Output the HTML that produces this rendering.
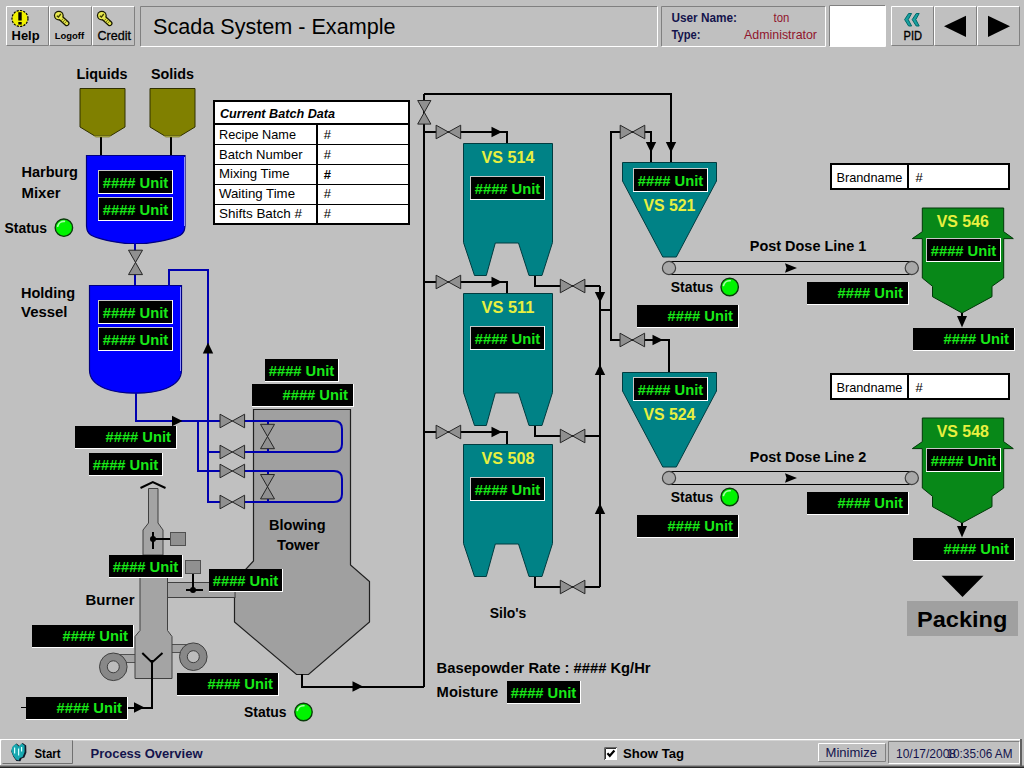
<!DOCTYPE html>
<html lang="en"><head><meta charset="utf-8"><title>Scada System - Example</title>
<style>html,body{margin:0;padding:0;background:#c0c0c0;overflow:hidden}svg{display:block}text{font-family:"Liberation Sans",sans-serif;white-space:pre}</style>
</head><body>
<svg width="1024" height="768" viewBox="0 0 1024 768">
<rect width="1024" height="768" fill="#c0c0c0"/>
<rect x="6" y="6" width="42" height="39" fill="#c0c0c0"/>
<path d="M6,45V6H48" stroke="#fff" stroke-width="1" fill="none" transform="translate(.5,.5)"/>
<path d="M6,45H48V6" stroke="#808080" stroke-width="1" fill="none" transform="translate(.5,.5)"/>
<rect x="49" y="6" width="42" height="39" fill="#c0c0c0"/>
<path d="M49,45V6H91" stroke="#fff" stroke-width="1" fill="none" transform="translate(.5,.5)"/>
<path d="M49,45H91V6" stroke="#808080" stroke-width="1" fill="none" transform="translate(.5,.5)"/>
<rect x="92" y="6" width="42" height="39" fill="#c0c0c0"/>
<path d="M92,45V6H134" stroke="#fff" stroke-width="1" fill="none" transform="translate(.5,.5)"/>
<path d="M92,45H134V6" stroke="#808080" stroke-width="1" fill="none" transform="translate(.5,.5)"/>
<rect x="140" y="6" width="517" height="40" fill="#c0c0c0"/>
<path d="M140,46V6H657" stroke="#808080" stroke-width="1" fill="none" transform="translate(.5,.5)"/>
<path d="M140,46H657V6" stroke="#fff" stroke-width="1" fill="none" transform="translate(.5,.5)"/>
<rect x="661" y="6" width="164" height="40" fill="#c0c0c0"/>
<path d="M661,46V6H825" stroke="#808080" stroke-width="1" fill="none" transform="translate(.5,.5)"/>
<path d="M661,46H825V6" stroke="#fff" stroke-width="1" fill="none" transform="translate(.5,.5)"/>
<rect x="829" y="5" width="56" height="41" fill="#fff"/>
<path d="M829,46V5H885" stroke="#808080" stroke-width="1" fill="none" transform="translate(.5,.5)"/>
<path d="M829,46H885V5" stroke="#fff" stroke-width="1" fill="none" transform="translate(.5,.5)"/>
<rect x="891" y="6" width="42" height="39" fill="#c0c0c0"/>
<path d="M891,45V6H933" stroke="#fff" stroke-width="1" fill="none" transform="translate(.5,.5)"/>
<path d="M891,45H933V6" stroke="#808080" stroke-width="1" fill="none" transform="translate(.5,.5)"/>
<rect x="934" y="6" width="42" height="39" fill="#c0c0c0"/>
<path d="M934,45V6H976" stroke="#fff" stroke-width="1" fill="none" transform="translate(.5,.5)"/>
<path d="M934,45H976V6" stroke="#808080" stroke-width="1" fill="none" transform="translate(.5,.5)"/>
<rect x="977" y="6" width="42" height="39" fill="#c0c0c0"/>
<path d="M977,45V6H1019" stroke="#fff" stroke-width="1" fill="none" transform="translate(.5,.5)"/>
<path d="M977,45H1019V6" stroke="#808080" stroke-width="1" fill="none" transform="translate(.5,.5)"/>
<circle cx="20" cy="18.5" r="8" fill="#f0f000" stroke="#000" stroke-width="1.2" stroke-dasharray="2.2 1.2"/>
<rect x="18.3" y="12.2" width="3.4" height="8.3" fill="#000"/><rect x="18.3" y="22" width="3.4" height="2.6" fill="#000"/>
<text x="25.6" y="39.6" font-size="13" font-weight="bold" fill="#000" text-anchor="middle" textLength="28" lengthAdjust="spacingAndGlyphs">Help</text>
<g transform="translate(53.8,10.8)"><path d="M7.4,7.6L12.9,12.6" stroke="#181800" stroke-width="5.6" stroke-linecap="round"/><circle cx="5" cy="4.8" r="4.9" fill="#181800"/><path d="M7.4,7.6L12.9,12.6" stroke="#e4e44c" stroke-width="3.2" stroke-linecap="round"/><circle cx="5" cy="4.8" r="3.7" fill="#e8e850"/><path d="M3,5L4.6,6.2L7,3.2" stroke="#404000" stroke-width="1.3" fill="none"/><path d="M9.6,7.6L7.4,10 M11.2,9L9,11.4 M12.8,10.4L10.6,12.8" stroke="#606000" stroke-width=".8"/></g>
<text x="69.4" y="38.5" font-size="9.2" font-weight="bold" fill="#000" text-anchor="middle" textLength="29.4" lengthAdjust="spacingAndGlyphs">Logoff</text>
<g transform="translate(96.8,10.8)"><path d="M7.4,7.6L12.9,12.6" stroke="#181800" stroke-width="5.6" stroke-linecap="round"/><circle cx="5" cy="4.8" r="4.9" fill="#181800"/><path d="M7.4,7.6L12.9,12.6" stroke="#e4e44c" stroke-width="3.2" stroke-linecap="round"/><circle cx="5" cy="4.8" r="3.7" fill="#e8e850"/><path d="M3,5L4.6,6.2L7,3.2" stroke="#404000" stroke-width="1.3" fill="none"/><path d="M9.6,7.6L7.4,10 M11.2,9L9,11.4 M12.8,10.4L10.6,12.8" stroke="#606000" stroke-width=".8"/></g>
<text x="114.2" y="39.5" font-size="12.5" font-weight="normal" fill="#000" text-anchor="middle" textLength="33.5" lengthAdjust="spacingAndGlyphs" stroke="#000" stroke-width=".3">Credit</text>
<text x="153" y="33.7" font-size="21.5" font-weight="normal" fill="#000" textLength="242.5" lengthAdjust="spacingAndGlyphs">Scada System - Example</text>
<text x="671.5" y="21.8" font-size="12" font-weight="bold" fill="#14144c" textLength="65.5" lengthAdjust="spacingAndGlyphs">User Name:</text>
<text x="671.5" y="38.7" font-size="12" font-weight="bold" fill="#14144c" textLength="29" lengthAdjust="spacingAndGlyphs">Type:</text>
<text x="773.5" y="21.8" font-size="13" font-weight="normal" fill="#90142c" textLength="15.8" lengthAdjust="spacingAndGlyphs">ton</text>
<text x="744" y="38.7" font-size="13" font-weight="normal" fill="#90142c" textLength="73" lengthAdjust="spacingAndGlyphs">Administrator</text>
<path d="M911,13.5L907.6,19.6L911,26L908,26L904,19.6L908,13.5Z M918.6,13.5L915.2,19.6L918.6,26L915.6,26L911.6,19.6L915.6,13.5Z" fill="#18a0a0" stroke="#006868" stroke-width="1" transform="translate(.6,0)"/>
<text x="912.8" y="39.8" font-size="12" font-weight="normal" fill="#000" text-anchor="middle" textLength="18.5" lengthAdjust="spacingAndGlyphs" stroke="#000" stroke-width=".35">PID</text>
<path d="M944,26.3L966,15.7V36.9Z" fill="#000"/>
<path d="M1010,26.3L988,15.7V36.9Z" fill="#000"/>
<text x="102" y="79" font-size="15.5" font-weight="bold" fill="#000" text-anchor="middle" textLength="51" lengthAdjust="spacingAndGlyphs">Liquids</text>
<text x="172.5" y="79" font-size="15.5" font-weight="bold" fill="#000" text-anchor="middle" textLength="43" lengthAdjust="spacingAndGlyphs">Solids</text>
<path d="M101,137V155.5" stroke="#000" stroke-width="2" fill="none" shape-rendering="crispEdges" />
<path d="M171,137V155.5" stroke="#000" stroke-width="2" fill="none" shape-rendering="crispEdges" />
<path d="M80,88.5H125V127L111,135.5H94L80,127Z" fill="#808000" stroke="#303000" stroke-width="1"/>
<path d="M94,135.5H111L109.5,137H95.5Z" fill="#b8b850" stroke="#606000" stroke-width=".6"/>
<path d="M150,88.5H195V127L181,135.5H164L150,127Z" fill="#808000" stroke="#303000" stroke-width="1"/>
<path d="M164,135.5H181L179.5,137H165.5Z" fill="#b8b850" stroke="#606000" stroke-width=".6"/>
<path d="M86.5,155.5H185V226C184.8,226.8 184.8,229.5 184.0,231.0C183.2,232.5 182.6,233.9 180.3,235.2C178.0,236.5 174.0,237.8 170.3,238.9C166.6,240.0 162.0,241.0 158.0,241.7C154.0,242.4 150.2,243.0 146.5,243.3C142.8,243.6 139.3,243.5 135.8,243.5C132.2,243.5 128.7,243.6 125.0,243.3C121.3,243.0 117.5,242.4 113.5,241.7C109.5,241.0 104.9,240.0 101.2,238.9C97.5,237.8 93.5,236.5 91.2,235.2C88.9,233.9 88.3,232.5 87.5,231.0C86.7,229.5 86.7,226.8 86.5,226.0Z" fill="#0000ff" stroke="#000080" stroke-width="1.2"/>
<path d="M184.5,157V226" stroke="#9090ff" stroke-width="1" fill="none" shape-rendering="crispEdges" />
<rect x="98" y="170" width="75" height="24" fill="#fff"/>
<rect x="98" y="170" width="74" height="23" fill="#c8c8c8"/>
<rect x="99" y="171" width="73" height="22" fill="#000"/>
<text x="135.5" y="188.2" font-size="15" font-weight="bold" fill="#18e818" text-anchor="middle" textLength="65.5" lengthAdjust="spacingAndGlyphs">#### Unit</text>
<rect x="98" y="197" width="75" height="24" fill="#fff"/>
<rect x="98" y="197" width="74" height="23" fill="#c8c8c8"/>
<rect x="99" y="198" width="73" height="22" fill="#000"/>
<text x="135.5" y="215.2" font-size="15" font-weight="bold" fill="#18e818" text-anchor="middle" textLength="65.5" lengthAdjust="spacingAndGlyphs">#### Unit</text>
<text x="21.5" y="177.3" font-size="15.5" font-weight="bold" fill="#000" textLength="56.5" lengthAdjust="spacingAndGlyphs">Harburg</text>
<text x="21.5" y="197.9" font-size="15.5" font-weight="bold" fill="#000" textLength="39" lengthAdjust="spacingAndGlyphs">Mixer</text>
<text x="4.5" y="233" font-size="15.5" font-weight="bold" fill="#000" textLength="42.6" lengthAdjust="spacingAndGlyphs">Status</text>
<circle cx="63.9" cy="227.7" r="8.7" fill="#00f400" stroke="#0a3a0a" stroke-width="1.4"/>
<path d="M57.699999999999996,226.2A6.4,6.4 0 0 1 64.4,221.39999999999998" stroke="#c8ffc8" stroke-width="1.6" fill="none" stroke-linecap="round" opacity=".85"/>
<path d="M135,243V251 M135,274V286" stroke="#0000b0" stroke-width="2" fill="none" shape-rendering="crispEdges" />
<path d="M128.5,250.2L142.5,274.59999999999997H128.5L142.5,250.2Z" fill="#909090" stroke="#262626" stroke-width="1" stroke-linejoin="miter"/>
<path d="M89.5,285.5H181.5V370C181.5,378 176,384.5 166,388.5C157,392 146,393.2 135.5,393.2C125,393.2 114,392 105,388.5C95,384.5 89.5,378 89.5,370Z" fill="#0000ff" stroke="#000080" stroke-width="1.2"/>
<path d="M180.5,287V371" stroke="#9090ff" stroke-width="1" fill="none" shape-rendering="crispEdges" />
<rect x="98" y="300" width="75" height="24" fill="#fff"/>
<rect x="98" y="300" width="74" height="23" fill="#c8c8c8"/>
<rect x="99" y="301" width="73" height="22" fill="#000"/>
<text x="135.5" y="318.2" font-size="15" font-weight="bold" fill="#18e818" text-anchor="middle" textLength="65.5" lengthAdjust="spacingAndGlyphs">#### Unit</text>
<rect x="98" y="327" width="75" height="24" fill="#fff"/>
<rect x="98" y="327" width="74" height="23" fill="#c8c8c8"/>
<rect x="99" y="328" width="73" height="22" fill="#000"/>
<text x="135.5" y="345.2" font-size="15" font-weight="bold" fill="#18e818" text-anchor="middle" textLength="65.5" lengthAdjust="spacingAndGlyphs">#### Unit</text>
<text x="21" y="297.5" font-size="15.5" font-weight="bold" fill="#000" textLength="54" lengthAdjust="spacingAndGlyphs">Holding</text>
<text x="21" y="317.3" font-size="15.5" font-weight="bold" fill="#000" textLength="46.5" lengthAdjust="spacingAndGlyphs">Vessel</text>
<path d="M169,286V270H208V502H221" stroke="#0000b0" stroke-width="2" fill="none" shape-rendering="crispEdges" />
<path d="M136,393V421H221" stroke="#0000b0" stroke-width="2" fill="none" shape-rendering="crispEdges" />
<path d="M198,421V471H221" stroke="#0000b0" stroke-width="2" fill="none" shape-rendering="crispEdges" />
<path d="M208,452H221" stroke="#0000b0" stroke-width="2" fill="none" shape-rendering="crispEdges" />
<path d="M208,342.5L202.8,353.5L208,353.5L213.2,353.5Z" fill="#000"/>
<path d="M182.5,421L172.0,415.8L172.0,421L172.0,426.2Z" fill="#000"/>
<path d="M253.5,409.5H350.5V565L369.5,581.5V622L308.5,674.5H296.5L234.5,622V581.5L253.5,561Z" fill="#a0a0a0" stroke="#202020" stroke-width="1.2"/>
<path d="M244,421H334Q342,421 342,429V444Q342,452 334,452H244" stroke="#0000b0" stroke-width="2" fill="none" />
<path d="M244,471H334Q342,471 342,479V494Q342,502 334,502H244" stroke="#0000b0" stroke-width="2" fill="none" />
<path d="M267.5,421V425 M267.5,448V452 M267.5,471V475 M267.5,498V502" stroke="#0000b0" stroke-width="2" fill="none" shape-rendering="crispEdges" />
<path d="M260.5,424.3L274.5,448.7H260.5L274.5,424.3Z" fill="#909090" stroke="#262626" stroke-width="1" stroke-linejoin="miter"/>
<path d="M260.5,474.5L274.5,498.9H260.5L274.5,474.5Z" fill="#909090" stroke="#262626" stroke-width="1" stroke-linejoin="miter"/>
<path d="M220.0,414.2L244.60000000000002,427.8V414.2L220.0,427.8Z" fill="#909090" stroke="#262626" stroke-width="1" stroke-linejoin="miter"/>
<path d="M220.0,445.2L244.60000000000002,458.8V445.2L220.0,458.8Z" fill="#909090" stroke="#262626" stroke-width="1" stroke-linejoin="miter"/>
<path d="M220.0,464.2L244.60000000000002,477.8V464.2L220.0,477.8Z" fill="#909090" stroke="#262626" stroke-width="1" stroke-linejoin="miter"/>
<path d="M220.0,495.2L244.60000000000002,508.8V495.2L220.0,508.8Z" fill="#909090" stroke="#262626" stroke-width="1" stroke-linejoin="miter"/>
<text x="297.3" y="530" font-size="15.5" font-weight="bold" fill="#000" text-anchor="middle" textLength="56.5" lengthAdjust="spacingAndGlyphs">Blowing</text>
<text x="298.3" y="550" font-size="15.5" font-weight="bold" fill="#000" text-anchor="middle" textLength="42.7" lengthAdjust="spacingAndGlyphs">Tower</text>
<rect x="265" y="359" width="74" height="23" fill="#fff"/>
<rect x="265" y="359" width="73" height="22" fill="#000"/>
<text x="301.5" y="376.2" font-size="15" font-weight="bold" fill="#18e818" text-anchor="middle" textLength="65.5" lengthAdjust="spacingAndGlyphs">#### Unit</text>
<rect x="252" y="384" width="102" height="23" fill="#fff"/>
<rect x="252" y="384" width="101" height="22" fill="#000"/>
<text x="348" y="399.8" font-size="15" font-weight="bold" fill="#18e818" text-anchor="end" textLength="65.5" lengthAdjust="spacingAndGlyphs">#### Unit</text>
<rect x="75" y="426" width="102" height="23" fill="#fff"/>
<rect x="75" y="426" width="101" height="22" fill="#000"/>
<text x="171" y="441.8" font-size="15" font-weight="bold" fill="#18e818" text-anchor="end" textLength="65.5" lengthAdjust="spacingAndGlyphs">#### Unit</text>
<rect x="89" y="453" width="74" height="23" fill="#fff"/>
<rect x="89" y="453" width="73" height="22" fill="#000"/>
<text x="125.5" y="470.2" font-size="15" font-weight="bold" fill="#18e818" text-anchor="middle" textLength="65.5" lengthAdjust="spacingAndGlyphs">#### Unit</text>
<path d="M302,674V686.5H424" stroke="#000" stroke-width="2" fill="none" shape-rendering="crispEdges" />
<path d="M363,686.5L352.5,681.3L352.5,686.5L352.5,691.7Z" fill="#000"/>
<text x="244" y="717" font-size="15.5" font-weight="bold" fill="#000" textLength="42.6" lengthAdjust="spacingAndGlyphs">Status</text>
<circle cx="303.5" cy="712" r="8.7" fill="#00f400" stroke="#0a3a0a" stroke-width="1.4"/>
<path d="M297.3,710.5A6.4,6.4 0 0 1 304.0,705.7" stroke="#c8ffc8" stroke-width="1.6" fill="none" stroke-linecap="round" opacity=".85"/>
<path d="M148.5,488.5H158V523L163,530V555H143V530L148.5,523Z" fill="#a4a4a4" stroke="#404040" stroke-width="1"/>
<path d="M140.5,488L152.8,482L165.5,488" stroke="#000" stroke-width="2" fill="none" />
<rect x="166" y="582.5" width="69" height="15" fill="#a4a4a4" stroke="#404040" stroke-width="1"/>
<rect x="113" y="654.5" width="23" height="8" fill="#a4a4a4" stroke="#505050" stroke-width="1"/>
<rect x="171" y="644.5" width="23" height="8" fill="#a4a4a4" stroke="#505050" stroke-width="1"/>
<circle cx="113.3" cy="666.8" r="13.8" fill="#888" stroke="#404040" stroke-width="1"/>
<circle cx="113.3" cy="666.8" r="6" fill="#bcbcbc" stroke="#404040" stroke-width="1"/>
<circle cx="193.3" cy="656.7" r="13.8" fill="#888" stroke="#404040" stroke-width="1"/>
<circle cx="193.3" cy="656.7" r="6" fill="#bcbcbc" stroke="#404040" stroke-width="1"/>
<path d="M140,577H167.5V630.5L172,636.5V678.5H135V636.5L140,630.5Z" fill="#a4a4a4" stroke="#404040" stroke-width="1"/>
<path d="M142.3,653L152,662.5L162.5,653" stroke="#000" stroke-width="2" fill="none" />
<path d="M152,660V707.5H128" stroke="#000" stroke-width="2" fill="none" shape-rendering="crispEdges" />
<path d="M144.5,707.5L134.0,702.3L134.0,707.5L134.0,712.7Z" fill="#000"/>
<path d="M21,707.5H26" stroke="#000" stroke-width="1.5" fill="none" shape-rendering="crispEdges" />
<path d="M153,531.5V548.5 M153,539H171" stroke="#000" stroke-width="2" fill="none" shape-rendering="crispEdges" />
<circle cx="153" cy="539" r="3" fill="#000"/>
<rect x="170.5" y="532.5" width="15" height="13" fill="#909090" stroke="#505050" stroke-width="1"/>
<rect x="185.5" y="560.5" width="15" height="13" fill="#909090" stroke="#505050" stroke-width="1"/>
<path d="M193,573.5V590 M185.5,590H203" stroke="#000" stroke-width="2" fill="none" shape-rendering="crispEdges" />
<circle cx="193" cy="590" r="3" fill="#000"/>
<text x="110" y="605" font-size="15.5" font-weight="bold" fill="#000" text-anchor="middle" textLength="49" lengthAdjust="spacingAndGlyphs">Burner</text>
<rect x="109" y="555" width="74" height="23" fill="#fff"/>
<rect x="109" y="555" width="73" height="22" fill="#000"/>
<text x="145.5" y="572.2" font-size="15" font-weight="bold" fill="#18e818" text-anchor="middle" textLength="65.5" lengthAdjust="spacingAndGlyphs">#### Unit</text>
<rect x="209" y="569" width="74" height="23" fill="#fff"/>
<rect x="209" y="569" width="73" height="22" fill="#000"/>
<text x="245.5" y="586.2" font-size="15" font-weight="bold" fill="#18e818" text-anchor="middle" textLength="65.5" lengthAdjust="spacingAndGlyphs">#### Unit</text>
<rect x="32" y="625" width="102" height="23" fill="#fff"/>
<rect x="32" y="625" width="101" height="22" fill="#000"/>
<text x="128" y="640.8" font-size="15" font-weight="bold" fill="#18e818" text-anchor="end" textLength="65.5" lengthAdjust="spacingAndGlyphs">#### Unit</text>
<rect x="177" y="673" width="102" height="23" fill="#fff"/>
<rect x="177" y="673" width="101" height="22" fill="#000"/>
<text x="273" y="688.8" font-size="15" font-weight="bold" fill="#18e818" text-anchor="end" textLength="65.5" lengthAdjust="spacingAndGlyphs">#### Unit</text>
<rect x="26" y="697" width="102" height="23" fill="#fff"/>
<rect x="26" y="697" width="101" height="22" fill="#000"/>
<text x="122" y="712.8" font-size="15" font-weight="bold" fill="#18e818" text-anchor="end" textLength="65.5" lengthAdjust="spacingAndGlyphs">#### Unit</text>
<rect x="214" y="101" width="195" height="123" fill="#fff" stroke="#000" stroke-width="2" shape-rendering="crispEdges"/>
<path d="M213,124H410" stroke="#000" stroke-width="2" fill="none" shape-rendering="crispEdges" />
<path d="M214,144.5H409 M214,164.5H409 M214,184.5H409 M214,204.5H409" stroke="#000" stroke-width="1" fill="none" shape-rendering="crispEdges" />
<path d="M317,124V224" stroke="#000" stroke-width="2" fill="none" shape-rendering="crispEdges" />
<text x="220" y="117.5" font-size="12.5" font-weight="bold" fill="#000" textLength="115" lengthAdjust="spacingAndGlyphs" font-style="italic">Current Batch Data</text>
<text x="219" y="138.8" font-size="13" font-weight="normal" fill="#000" textLength="77" lengthAdjust="spacingAndGlyphs">Recipe Name</text>
<text x="323.8" y="138.8" font-size="13" font-weight="normal" fill="#000">#</text>
<text x="219" y="158.8" font-size="13" font-weight="normal" fill="#000" textLength="83.5" lengthAdjust="spacingAndGlyphs">Batch Number</text>
<text x="323.8" y="158.8" font-size="13" font-weight="normal" fill="#000">#</text>
<text x="219" y="178.3" font-size="13" font-weight="normal" fill="#000" textLength="70.5" lengthAdjust="spacingAndGlyphs">Mixing Time</text>
<text x="323.8" y="179.10000000000002" font-size="13" font-weight="bold" fill="#000">#</text>
<text x="219" y="198.3" font-size="13" font-weight="normal" fill="#000" textLength="76" lengthAdjust="spacingAndGlyphs">Waiting Time</text>
<text x="323.8" y="198.3" font-size="13" font-weight="normal" fill="#000">#</text>
<text x="219" y="218.3" font-size="13" font-weight="normal" fill="#000" textLength="83" lengthAdjust="spacingAndGlyphs">Shifts Batch #</text>
<text x="323.8" y="218.3" font-size="13" font-weight="normal" fill="#000">#</text>
<path d="M424,94V687" stroke="#000" stroke-width="2" fill="none" shape-rendering="crispEdges" />
<path d="M424,94H671V162" stroke="#000" stroke-width="2" fill="none" shape-rendering="crispEdges" />
<path d="M671,152.5L665.8,142.0L671,142.0L676.2,142.0Z" fill="#000"/>
<path d="M417.7,100.5L430.90000000000003,124.1H417.7L430.90000000000003,100.5Z" fill="#909090" stroke="#262626" stroke-width="1" stroke-linejoin="miter"/>
<path d="M424,132H507V143" stroke="#000" stroke-width="2" fill="none" shape-rendering="crispEdges" />
<path d="M436.09999999999997,125.2L460.7,138.8V125.2L436.09999999999997,138.8Z" fill="#909090" stroke="#262626" stroke-width="1" stroke-linejoin="miter"/>
<path d="M502,132L491.5,126.8L491.5,132L491.5,137.2Z" fill="#000"/>
<path d="M535,275.5V286H600" stroke="#000" stroke-width="2" fill="none" shape-rendering="crispEdges" />
<path d="M560.3000000000001,279.2L584.9,292.8V279.2L560.3000000000001,292.8Z" fill="#909090" stroke="#262626" stroke-width="1" stroke-linejoin="miter"/>
<path d="M463.5,143.5H552.5V242.5L542,275.5H529L518.5,243.0H495.3L486.3,275.5H474.5L463.5,242.5Z" fill="#008286" stroke="#003c40" stroke-width="1"/>
<text x="508" y="162.8" font-size="16" font-weight="bold" fill="#e8f040" text-anchor="middle" textLength="52.8" lengthAdjust="spacingAndGlyphs">VS 514</text>
<rect x="470" y="176" width="75" height="24" fill="#fff"/>
<rect x="470" y="176" width="74" height="23" fill="#c8c8c8"/>
<rect x="471" y="177" width="73" height="22" fill="#000"/>
<text x="507.5" y="194.2" font-size="15" font-weight="bold" fill="#18e818" text-anchor="middle" textLength="65.5" lengthAdjust="spacingAndGlyphs">#### Unit</text>
<path d="M424,282H507V293" stroke="#000" stroke-width="2" fill="none" shape-rendering="crispEdges" />
<path d="M436.09999999999997,275.2L460.7,288.8V275.2L436.09999999999997,288.8Z" fill="#909090" stroke="#262626" stroke-width="1" stroke-linejoin="miter"/>
<path d="M502,282L491.5,276.8L491.5,282L491.5,287.2Z" fill="#000"/>
<path d="M535,425.5V436H600" stroke="#000" stroke-width="2" fill="none" shape-rendering="crispEdges" />
<path d="M560.3000000000001,429.2L584.9,442.8V429.2L560.3000000000001,442.8Z" fill="#909090" stroke="#262626" stroke-width="1" stroke-linejoin="miter"/>
<path d="M463.5,293.5H552.5V392.5L542,425.5H529L518.5,393.0H495.3L486.3,425.5H474.5L463.5,392.5Z" fill="#008286" stroke="#003c40" stroke-width="1"/>
<text x="508" y="312.8" font-size="16" font-weight="bold" fill="#e8f040" text-anchor="middle" textLength="52.8" lengthAdjust="spacingAndGlyphs">VS 511</text>
<rect x="470" y="326" width="75" height="24" fill="#fff"/>
<rect x="470" y="326" width="74" height="23" fill="#c8c8c8"/>
<rect x="471" y="327" width="73" height="22" fill="#000"/>
<text x="507.5" y="344.2" font-size="15" font-weight="bold" fill="#18e818" text-anchor="middle" textLength="65.5" lengthAdjust="spacingAndGlyphs">#### Unit</text>
<path d="M424,432H507V444" stroke="#000" stroke-width="2" fill="none" shape-rendering="crispEdges" />
<path d="M436.09999999999997,425.2L460.7,438.8V425.2L436.09999999999997,438.8Z" fill="#909090" stroke="#262626" stroke-width="1" stroke-linejoin="miter"/>
<path d="M502,432L491.5,426.8L491.5,432L491.5,437.2Z" fill="#000"/>
<path d="M535,576.5V587H600" stroke="#000" stroke-width="2" fill="none" shape-rendering="crispEdges" />
<path d="M560.3000000000001,580.2L584.9,593.8V580.2L560.3000000000001,593.8Z" fill="#909090" stroke="#262626" stroke-width="1" stroke-linejoin="miter"/>
<path d="M463.5,444.5H552.5V543.5L542,576.5H529L518.5,544.0H495.3L486.3,576.5H474.5L463.5,543.5Z" fill="#008286" stroke="#003c40" stroke-width="1"/>
<text x="508" y="463.8" font-size="16" font-weight="bold" fill="#e8f040" text-anchor="middle" textLength="52.8" lengthAdjust="spacingAndGlyphs">VS 508</text>
<rect x="470" y="477" width="75" height="24" fill="#fff"/>
<rect x="470" y="477" width="74" height="23" fill="#c8c8c8"/>
<rect x="471" y="478" width="73" height="22" fill="#000"/>
<text x="507.5" y="495.2" font-size="15" font-weight="bold" fill="#18e818" text-anchor="middle" textLength="65.5" lengthAdjust="spacingAndGlyphs">#### Unit</text>
<path d="M600,286V587" stroke="#000" stroke-width="2" fill="none" shape-rendering="crispEdges" />
<path d="M600,302.5L594.8,292.0L600,292.0L605.2,292.0Z" fill="#000"/>
<path d="M600,364.5L594.8,375.0L600,375.0L605.2,375.0Z" fill="#000"/>
<path d="M600,503.5L594.8,514.0L600,514.0L605.2,514.0Z" fill="#000"/>
<path d="M600,310H611" stroke="#000" stroke-width="2" fill="none" shape-rendering="crispEdges" />
<path d="M651,162V132H611V340H669V372" stroke="#000" stroke-width="2" fill="none" shape-rendering="crispEdges" />
<path d="M620.2,125.2L644.8,138.8V125.2L620.2,138.8Z" fill="#909090" stroke="#262626" stroke-width="1" stroke-linejoin="miter"/>
<path d="M651,152.5L645.8,142.0L651,142.0L656.2,142.0Z" fill="#000"/>
<path d="M620.0,333.2L644.5999999999999,346.8V333.2L620.0,346.8Z" fill="#909090" stroke="#262626" stroke-width="1" stroke-linejoin="miter"/>
<path d="M663,340L652.5,334.8L652.5,340L652.5,345.2Z" fill="#000"/>
<path d="M622.5,162.5H716.5V181L676.3,257H662.8L622.5,181Z" fill="#008286" stroke="#003c40" stroke-width="1"/>
<rect x="633" y="168" width="75" height="24" fill="#fff"/>
<rect x="633" y="168" width="74" height="23" fill="#c8c8c8"/>
<rect x="634" y="169" width="73" height="22" fill="#000"/>
<text x="670.5" y="186.2" font-size="15" font-weight="bold" fill="#18e818" text-anchor="middle" textLength="65.5" lengthAdjust="spacingAndGlyphs">#### Unit</text>
<text x="669.4" y="211" font-size="16" font-weight="bold" fill="#e8f040" text-anchor="middle" textLength="52" lengthAdjust="spacingAndGlyphs">VS 521</text>
<path d="M669,261.5H912 M669,274.5H912" stroke="#000" stroke-width="1" fill="none" shape-rendering="crispEdges" />
<circle cx="669" cy="268" r="6.6" fill="#a8a8a8" stroke="#404040" stroke-width="1.2"/>
<circle cx="911.8" cy="268" r="6.6" fill="#a8a8a8" stroke="#404040" stroke-width="1.2"/>
<path d="M797,268L785,263.2L786.5,268L785,272.8Z" fill="#000"/>
<text x="808" y="251.2" font-size="15.5" font-weight="bold" fill="#000" text-anchor="middle" textLength="116.5" lengthAdjust="spacingAndGlyphs">Post Dose Line 1</text>
<text x="670.7" y="292.1" font-size="15.5" font-weight="bold" fill="#000" textLength="42.6" lengthAdjust="spacingAndGlyphs">Status</text>
<circle cx="729.7" cy="287" r="8.7" fill="#00f400" stroke="#0a3a0a" stroke-width="1.4"/>
<path d="M723.5,285.5A6.4,6.4 0 0 1 730.2,280.7" stroke="#c8ffc8" stroke-width="1.6" fill="none" stroke-linecap="round" opacity=".85"/>
<rect x="637" y="305" width="102" height="23" fill="#fff"/>
<rect x="637" y="305" width="101" height="22" fill="#000"/>
<text x="733" y="320.8" font-size="15" font-weight="bold" fill="#18e818" text-anchor="end" textLength="65.5" lengthAdjust="spacingAndGlyphs">#### Unit</text>
<rect x="807" y="282" width="102" height="23" fill="#fff"/>
<rect x="807" y="282" width="101" height="22" fill="#000"/>
<text x="903" y="297.8" font-size="15" font-weight="bold" fill="#18e818" text-anchor="end" textLength="65.5" lengthAdjust="spacingAndGlyphs">#### Unit</text>
<path d="M622.5,372.5H716.5V391L676.3,467H662.8L622.5,391Z" fill="#008286" stroke="#003c40" stroke-width="1"/>
<rect x="633" y="377" width="75" height="24" fill="#fff"/>
<rect x="633" y="377" width="74" height="23" fill="#c8c8c8"/>
<rect x="634" y="378" width="73" height="22" fill="#000"/>
<text x="670.5" y="395.2" font-size="15" font-weight="bold" fill="#18e818" text-anchor="middle" textLength="65.5" lengthAdjust="spacingAndGlyphs">#### Unit</text>
<text x="669.4" y="419.5" font-size="16" font-weight="bold" fill="#e8f040" text-anchor="middle" textLength="52" lengthAdjust="spacingAndGlyphs">VS 524</text>
<path d="M669,471.5H912 M669,484.5H912" stroke="#000" stroke-width="1" fill="none" shape-rendering="crispEdges" />
<circle cx="669" cy="478" r="6.6" fill="#a8a8a8" stroke="#404040" stroke-width="1.2"/>
<circle cx="911.8" cy="478" r="6.6" fill="#a8a8a8" stroke="#404040" stroke-width="1.2"/>
<path d="M797,478L785,473.2L786.5,478L785,482.8Z" fill="#000"/>
<text x="808" y="461.7" font-size="15.5" font-weight="bold" fill="#000" text-anchor="middle" textLength="116.5" lengthAdjust="spacingAndGlyphs">Post Dose Line 2</text>
<text x="670.7" y="502" font-size="15.5" font-weight="bold" fill="#000" textLength="42.6" lengthAdjust="spacingAndGlyphs">Status</text>
<circle cx="729.7" cy="497" r="8.7" fill="#00f400" stroke="#0a3a0a" stroke-width="1.4"/>
<path d="M723.5,495.5A6.4,6.4 0 0 1 730.2,490.7" stroke="#c8ffc8" stroke-width="1.6" fill="none" stroke-linecap="round" opacity=".85"/>
<rect x="637" y="515" width="102" height="23" fill="#fff"/>
<rect x="637" y="515" width="101" height="22" fill="#000"/>
<text x="733" y="530.8" font-size="15" font-weight="bold" fill="#18e818" text-anchor="end" textLength="65.5" lengthAdjust="spacingAndGlyphs">#### Unit</text>
<rect x="807" y="492" width="102" height="23" fill="#fff"/>
<rect x="807" y="492" width="101" height="22" fill="#000"/>
<text x="903" y="507.8" font-size="15" font-weight="bold" fill="#18e818" text-anchor="end" textLength="65.5" lengthAdjust="spacingAndGlyphs">#### Unit</text>
<rect x="831" y="164" width="178" height="25" fill="#fff" stroke="#000" stroke-width="2" shape-rendering="crispEdges"/>
<path d="M908,163V190" stroke="#000" stroke-width="2" fill="none" shape-rendering="crispEdges" />
<text x="836.4" y="181.8" font-size="13" font-weight="normal" fill="#000" textLength="66" lengthAdjust="spacingAndGlyphs">Brandname</text>
<text x="915.5" y="181.8" font-size="13" font-weight="normal" fill="#000">#</text>
<path d="M922.3,208H1003.7V231.7L1013.3,238.6H1003.7V278L992,286.3V296.7L962,313L932.5,296.7V286.3L922.3,278V238.6H912.3L922.3,231.7Z" fill="#088818" stroke="#003808" stroke-width="1"/>
<text x="962.8" y="227.2" font-size="16" font-weight="bold" fill="#e8f040" text-anchor="middle" textLength="52.2" lengthAdjust="spacingAndGlyphs">VS 546</text>
<rect x="926" y="238" width="75" height="24" fill="#fff"/>
<rect x="926" y="238" width="74" height="23" fill="#c8c8c8"/>
<rect x="927" y="239" width="73" height="22" fill="#000"/>
<text x="963.5" y="256.2" font-size="15" font-weight="bold" fill="#18e818" text-anchor="middle" textLength="65.5" lengthAdjust="spacingAndGlyphs">#### Unit</text>
<path d="M962,313V320" stroke="#000" stroke-width="2" fill="none" shape-rendering="crispEdges" />
<path d="M962,327.5L957,316.0L962,316.0L967,316.0Z" fill="#000"/>
<rect x="913" y="328" width="102" height="23" fill="#fff"/>
<rect x="913" y="328" width="101" height="22" fill="#000"/>
<text x="1009" y="343.8" font-size="15" font-weight="bold" fill="#18e818" text-anchor="end" textLength="65.5" lengthAdjust="spacingAndGlyphs">#### Unit</text>
<rect x="831" y="374" width="178" height="25" fill="#fff" stroke="#000" stroke-width="2" shape-rendering="crispEdges"/>
<path d="M908,373V400" stroke="#000" stroke-width="2" fill="none" shape-rendering="crispEdges" />
<text x="836.4" y="391.8" font-size="13" font-weight="normal" fill="#000" textLength="66" lengthAdjust="spacingAndGlyphs">Brandname</text>
<text x="915.5" y="391.8" font-size="13" font-weight="normal" fill="#000">#</text>
<path d="M922.3,418H1003.7V441.7L1013.3,448.6H1003.7V488L992,496.3V506.7L962,523L932.5,506.7V496.3L922.3,488V448.6H912.3L922.3,441.7Z" fill="#088818" stroke="#003808" stroke-width="1"/>
<text x="962.8" y="437.2" font-size="16" font-weight="bold" fill="#e8f040" text-anchor="middle" textLength="52.2" lengthAdjust="spacingAndGlyphs">VS 548</text>
<rect x="926" y="448" width="75" height="24" fill="#fff"/>
<rect x="926" y="448" width="74" height="23" fill="#c8c8c8"/>
<rect x="927" y="449" width="73" height="22" fill="#000"/>
<text x="963.5" y="466.2" font-size="15" font-weight="bold" fill="#18e818" text-anchor="middle" textLength="65.5" lengthAdjust="spacingAndGlyphs">#### Unit</text>
<path d="M962,523V530" stroke="#000" stroke-width="2" fill="none" shape-rendering="crispEdges" />
<path d="M962,537.5L957,526.0L962,526.0L967,526.0Z" fill="#000"/>
<rect x="913" y="538" width="102" height="23" fill="#fff"/>
<rect x="913" y="538" width="101" height="22" fill="#000"/>
<text x="1009" y="553.8" font-size="15" font-weight="bold" fill="#18e818" text-anchor="end" textLength="65.5" lengthAdjust="spacingAndGlyphs">#### Unit</text>
<path d="M941.5,575.7H983.5L962.5,597Z" fill="#000"/>
<rect x="907" y="601" width="111" height="35" fill="#a0a0a0"/>
<text x="962.2" y="626.8" font-size="22.8" font-weight="bold" fill="#000" text-anchor="middle" textLength="90.3" lengthAdjust="spacingAndGlyphs">Packing</text>
<text x="489.7" y="618.3" font-size="15.5" font-weight="bold" fill="#000" textLength="36.7" lengthAdjust="spacingAndGlyphs">Silo's</text>
<text x="436.6" y="672.6" font-size="15.5" font-weight="bold" fill="#000" textLength="214" lengthAdjust="spacingAndGlyphs">Basepowder Rate : #### Kg/Hr</text>
<text x="436.6" y="696.5" font-size="15.5" font-weight="bold" fill="#000" textLength="61.5" lengthAdjust="spacingAndGlyphs">Moisture</text>
<rect x="507" y="681" width="74" height="23" fill="#fff"/>
<rect x="507" y="681" width="73" height="22" fill="#000"/>
<text x="543.5" y="698.2" font-size="15" font-weight="bold" fill="#18e818" text-anchor="middle" textLength="65.5" lengthAdjust="spacingAndGlyphs">#### Unit</text>
<rect x="0" y="739" width="1021" height="1.3" fill="#fff"/>
<rect x="0" y="739" width="1" height="26" fill="#fff"/>
<rect x="0" y="765.4" width="1024" height="1.2" fill="#787878"/>
<rect x="0" y="766.5" width="1024" height="1.5" fill="#282828"/>
<rect x="1020" y="739" width="2" height="27" fill="#606060"/>
<rect x="2" y="740" width="71" height="24" fill="#c0c0c0"/>
<path d="M2.5,763.5H72.5V740.5" stroke="#707070" stroke-width="1" fill="none"/>
<path d="M13.2,746.2L16.6,743.4L19.4,746L22.6,743L26.2,745.4L26.4,752.5L24.4,757.6L21.6,758.6L20.4,761.2L16.4,761L13.2,756.6L11.2,751.2Z" fill="#101828"/>
<path d="M12.6,746.4L16,743.8L18.8,746.4L21.8,743.6L24.6,745.6L24.6,752L22.6,757L19.8,758L18.6,760.4L16,759.6L13.2,755.6L11.2,750.8Z" fill="#18a8b0"/>
<path d="M14.6,747.6V753.4 M18.6,748.6V755.6 M21.6,747V751.6" stroke="#d8ffff" stroke-width="1.2"/>
<text x="34.5" y="758" font-size="12.5" font-weight="bold" fill="#000" textLength="26" lengthAdjust="spacingAndGlyphs">Start</text>
<text x="90.5" y="757.7" font-size="13" font-weight="bold" fill="#14144c" textLength="112" lengthAdjust="spacingAndGlyphs">Process Overview</text>
<rect x="604" y="747" width="13" height="13" fill="#fff"/>
<path d="M604.5,760V747.5H617" stroke="#686868" stroke-width="1" fill="none"/>
<path d="M605.5,759V748.5H616" stroke="#303030" stroke-width="1" fill="none"/>
<path d="M607.4,753.2L609.8,755.8L614.4,750.6" stroke="#000" stroke-width="2.2" fill="none"/>
<text x="623" y="758" font-size="13" font-weight="bold" fill="#000" textLength="61" lengthAdjust="spacingAndGlyphs">Show Tag</text>
<rect x="818" y="743" width="67" height="18" fill="#c0c0c0"/>
<path d="M818,761V743H885" stroke="#fff" stroke-width="1" fill="none" transform="translate(.5,.5)"/>
<path d="M818,761H885V743" stroke="#808080" stroke-width="1" fill="none" transform="translate(.5,.5)"/>
<text x="851.3" y="756.5" font-size="13" font-weight="normal" fill="#14144c" text-anchor="middle" textLength="51.5" lengthAdjust="spacingAndGlyphs">Minimize</text>
<rect x="888" y="741" width="131" height="22" fill="#c0c0c0"/>
<path d="M888,763V741H1019" stroke="#808080" stroke-width="1" fill="none" transform="translate(.5,.5)"/>
<path d="M888,763H1019V741" stroke="#fff" stroke-width="1" fill="none" transform="translate(.5,.5)"/>
<text x="896" y="758" font-size="13" font-weight="normal" fill="#14144c" textLength="60" lengthAdjust="spacingAndGlyphs">10/17/2008</text>
<text x="1012.5" y="758" font-size="13" font-weight="normal" fill="#14144c" text-anchor="end" textLength="66" lengthAdjust="spacingAndGlyphs">10:35:06 AM</text>
</svg>
</body></html>
